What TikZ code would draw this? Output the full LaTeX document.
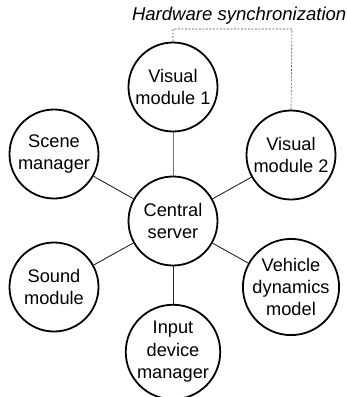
\documentclass[tikz,border=0pt]{standalone}
\usepackage{fontspec}
\setmainfont{Liberation Sans}
\begin{document}
\begin{tikzpicture}[x=1bp,y=-1bp,
  mod/.style={circle,draw=black,line width=1.8bp,minimum size=89bp,inner sep=0pt,align=center,font=\fontsize{18.3}{22.5}\selectfont},
  link/.style={line width=0.9bp,draw=black!85},
  sync/.style={line width=0.6bp,draw=black!70,dashed,dash pattern=on 2bp off 1.5bp}]
\useasboundingbox (0,0) rectangle (347,397);
\node[mod] (c) at (173,221) {Central\\server};
\node[mod] (v1) at (173,87) {Visual\\module 1};
\node[mod] (v2) at (291,155) {Visual\\module 2};
\node[mod] (sm) at (54,154) {Scene\\manager};
\node[mod] (so) at (54,287) {Sound\\module};
\node[mod] (vd) at (291,287) {Vehicle\\dynamics\\model};
\node[mod] (in) at (173,352) {Input\\device\\manager};
\draw[link,draw=black!55] (c) -- (v1);
\draw[link] (c) -- (v2);
\draw[link] (c) -- (sm);
\draw[link] (c) -- (so);
\draw[link] (c) -- (vd);
\draw[link] (c) -- (in);
\coordinate (tl) at (173,29);
\coordinate (tr) at (292,29);
\draw[sync] (v1.north) -- (tl) -- (tr) -- (v2.north);
\node[font=\fontsize{18.6}{20}\selectfont\itshape,anchor=east,inner sep=0pt] (hw) at (346.5,16) {Hardware synchronization};
\end{tikzpicture}
\end{document}
